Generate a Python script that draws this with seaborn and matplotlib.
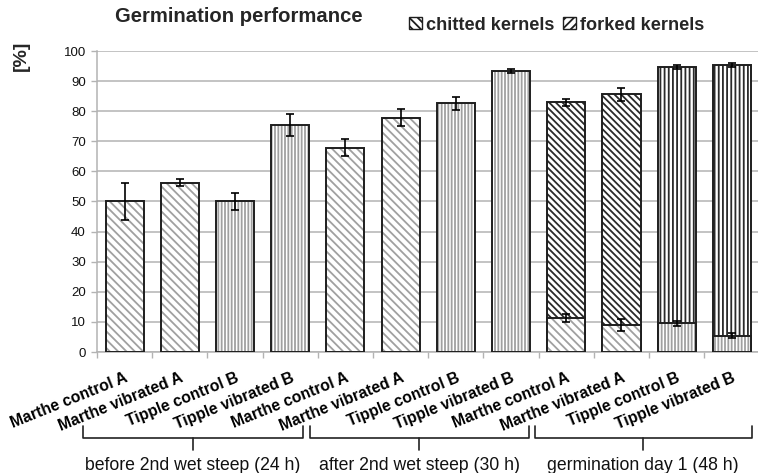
import matplotlib
matplotlib.use("Agg")
import matplotlib.pyplot as plt
import matplotlib.transforms as mtransforms
from matplotlib.patches import Patch
import seaborn as sns
import pandas as pd
import numpy as np

# ---------------- data ----------------
categories = ["Marthe control A", "Marthe vibrated A", "Tipple control B", "Tipple vibrated B"] * 3
variety = ["Marthe", "Marthe", "Tipple", "Tipple"] * 3
total = [50.0, 56.3, 50.0, 75.5, 67.9, 77.9, 82.6, 93.4, 82.9, 85.6, 94.6, 95.4]
total_err = [6.2, 1.2, 2.7, 3.6, 2.8, 2.8, 2.2, 0.7, 1.3, 2.2, 0.6, 0.7]
chitted = [0, 0, 0, 0, 0, 0, 0, 0, 11.3, 8.9, 9.6, 5.4]
chitted_err = [0, 0, 0, 0, 0, 0, 0, 0, 1.3, 2.0, 0.8, 0.8]
has_forked = [False] * 8 + [True] * 4
groups = ["before 2nd wet steep (24 h)", "after 2nd wet steep (30 h)", "germination day 1 (48 h)"]
y_ticks = list(range(0, 101, 10))

ids = [f"c{i}" for i in range(len(categories))]
df = pd.DataFrame({"id": ids, "total": total, "chitted": chitted})

# ---------------- style ----------------
sns.set_theme(style="white")
plt.rcParams["font.family"] = ["Liberation Sans", "DejaVu Sans"]
plt.rcParams["hatch.linewidth"] = 1.3

LIGHT = "#a0a0a0"
DARK = "#2a2a2a"
OUTLINE = "#1e1e1e"
GRID = "#b3b3b3"

fig = plt.figure(figsize=(7.58, 4.73), dpi=100)
ax = fig.add_axes([97 / 758, 1 - 352 / 473, (759.5 - 97) / 758, (352 - 51) / 473])

BW = 0.69

def hatch_for(var, forked):
    if var == "Marthe":
        return "\\\\\\\\\\" if forked else "\\\\\\\\"
    return "||||" if forked else "|||||"

# layer 1: total bars, hatched
sns.barplot(data=df, x="id", y="total", order=ids, color="white", width=BW,
            saturation=1, ax=ax, errorbar=None, zorder=2)
n1 = len(ax.patches)
for i, p in enumerate(ax.patches[:n1]):
    p.set_facecolor("white")
    p.set_hatch(hatch_for(variety[i], has_forked[i]))
    p.set_edgecolor(DARK if has_forked[i] else LIGHT)
    p.set_linewidth(0)

# layer 2: total outlines
sns.barplot(data=df, x="id", y="total", order=ids, fill=False, width=BW,
            ax=ax, errorbar=None, zorder=3)
for p in ax.patches[n1:]:
    p.set_edgecolor(OUTLINE)
    p.set_linewidth(1.4)
    p.set_facecolor("none")
n2 = len(ax.patches)

# layer 3: chitted portion of stacked bars
sns.barplot(data=df, x="id", y="chitted", order=ids, color="white", width=BW,
            saturation=1, ax=ax, errorbar=None, zorder=4)
n3 = len(ax.patches)
for i, p in enumerate(ax.patches[n2:n3]):
    p.set_facecolor("white")
    p.set_hatch(hatch_for(variety[i], False))
    p.set_edgecolor(LIGHT)
    p.set_linewidth(0)
    if chitted[i] == 0:
        p.set_visible(False)
sns.barplot(data=df, x="id", y="chitted", order=ids, fill=False, width=BW,
            ax=ax, errorbar=None, zorder=5)
for i, p in enumerate(ax.patches[n3:]):
    p.set_edgecolor(OUTLINE)
    p.set_linewidth(1.4)
    p.set_facecolor("none")
    if chitted[i] == 0:
        p.set_visible(False)

# error bars
xpos = np.arange(len(ids))
ax.errorbar(xpos, total, yerr=total_err, fmt="none", ecolor="black",
            elinewidth=1.2, capsize=3, capthick=1.2, zorder=6)
mask = np.array(chitted) > 0
ax.errorbar(xpos[mask], np.array(chitted)[mask], yerr=np.array(chitted_err)[mask],
            fmt="none", ecolor="black", elinewidth=1.2, capsize=3, capthick=1.2, zorder=6)

# axes formatting
ax.set_xlim(-0.5, len(ids) - 0.5)
ax.set_ylim(0, 100)
ax.set_yticks(y_ticks)
ax.set_yticklabels([str(v) for v in y_ticks], fontsize=9.5, color="#111111")
ax.yaxis.grid(True, color=GRID, linewidth=1.1, zorder=0)
ax.set_axisbelow(True)
ax.set_xlabel("")
ax.set_ylabel("")
for s in ["top", "right"]:
    ax.spines[s].set_visible(False)
for s in ["left", "bottom"]:
    ax.spines[s].set_color(GRID)
    ax.spines[s].set_linewidth(1.1)
ax.tick_params(axis="y", which="major", length=4, color=GRID, width=1, direction="out", pad=4, left=True)
ax.set_xticks(xpos)
ax.set_xticklabels(categories, rotation=22, ha="right", rotation_mode="anchor",
                   fontsize=11.3, fontweight="bold", color="black")
ax.tick_params(axis="x", which="major", length=0, pad=13)
ax.set_xticks(np.arange(-0.5, len(ids), 1.0), minor=True)
ax.tick_params(axis="x", which="minor", length=4, color=GRID, width=1, direction="out", bottom=True)

# title, y label
fig.text(115 / 758, 1 - 16 / 473, "Germination performance", fontsize=14.6,
         fontweight="bold", ha="left", va="center")
fig.text(21 / 758, 1 - 56 / 473, "[%]", fontsize=14, fontweight="bold",
         rotation=90, ha="center", va="center")

# legend
handles = [Patch(facecolor="white", edgecolor=OUTLINE, hatch="\\\\\\\\", label="chitted kernels"),
           Patch(facecolor="white", edgecolor=OUTLINE, hatch="////", label="forked kernels")]
leg = fig.legend(handles=handles, loc="center left", bbox_to_anchor=(409 / 758, 1 - 25 / 473),
                 ncol=2, frameon=False, prop={"weight": "bold", "size": 13.1},
                 handlelength=0.7, handleheight=0.7, handletextpad=0.25, columnspacing=0.45,
                 borderaxespad=0, borderpad=0)

# group brackets
trans = mtransforms.blended_transform_factory(ax.transData, fig.transFigure)
brackets = [(-0.76, 3.24), (3.36, 7.32), (7.43, 11.36)]
y_top = 1 - 426 / 473
y_mid = 1 - 438 / 473
y_notch = 1 - 450 / 473
for (x0, x1), label in zip(brackets, groups):
    xm = (x0 + x1) / 2
    ax.plot([x0, x0, x1, x1], [y_top, y_mid, y_mid, y_top], transform=trans,
            color="#222222", lw=1.2, clip_on=False, solid_joinstyle="round")
    ax.plot([xm, xm], [y_mid, y_notch], transform=trans, color="#222222",
            lw=1.2, clip_on=False)
    ax.text(xm, 1 - 465 / 473, label, transform=trans, ha="center", va="center",
            fontsize=12.7, color="#111111")

fig.savefig("out.png", dpi=100)
